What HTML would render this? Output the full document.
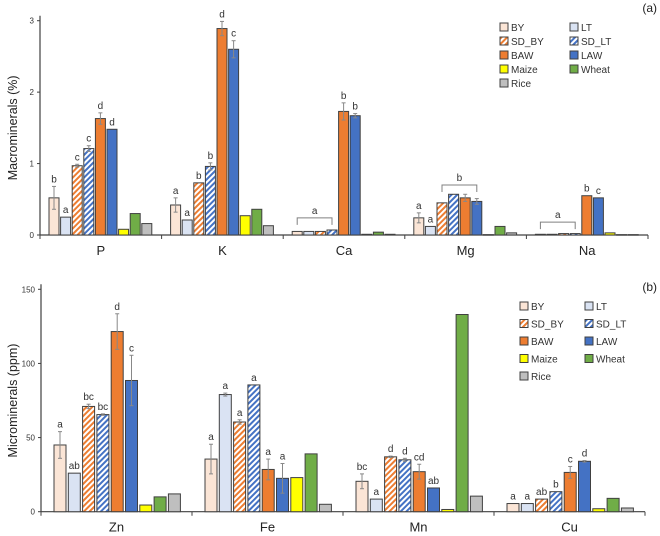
<!DOCTYPE html>
<html><head><meta charset="utf-8">
<style>
html,body{margin:0;padding:0;background:#fff;}
svg{display:block;font-family:"Liberation Sans",sans-serif;}
</style></head>
<body>
<svg id="chart" width="660" height="536" viewBox="0 0 660 536" xmlns="http://www.w3.org/2000/svg">
<defs>
<pattern id="hatchO" patternUnits="userSpaceOnUse" width="4" height="4" patternTransform="rotate(45)">
<rect width="4" height="4" fill="#fff"/><rect width="2" height="4" fill="#ed7d31"/></pattern>
<pattern id="hatchB" patternUnits="userSpaceOnUse" width="4" height="4" patternTransform="rotate(45)">
<rect width="4" height="4" fill="#fff"/><rect width="2" height="4" fill="#4472c4"/></pattern>
</defs>
<g id="top"></g>
<g id="bot"></g>
</svg>
<script>
const series = ["BY","LT","SD_BY","SD_LT","BAW","LAW","Maize","Wheat","Rice"];
const fills = ["#fbe5d6","#dae3f3","url(#hatchO)","url(#hatchB)","#ed7d31","#4472c4","#ffff00","#70ad47","#bfbfbf"];
const macroCats = ["P","K","Ca","Mg","Na"];
const macroVals = [
 [0.52,0.25,0.97,1.21,1.63,1.48,0.08,0.30,0.16],
 [0.42,0.21,0.73,0.96,2.89,2.60,0.27,0.36,0.13],
 [0.05,0.05,0.05,0.07,1.73,1.67,0.01,0.04,0.01],
 [0.24,0.12,0.45,0.57,0.52,0.47,0.005,0.12,0.03],
 [0.01,0.01,0.02,0.02,0.55,0.52,0.03,0.005,0.005]];
const macroErr = [
 [0.16,0,0.02,0.04,0.08,0,0,0,0],
 [0.10,0,0,0.05,0.10,0.12,0,0,0],
 [0,0,0,0,0.12,0.03,0,0,0],
 [0.07,0,0,0,0.05,0.04,0,0,0],
 [0,0,0,0,0,0,0,0,0]];
const macroLbl = [
 ["b","a","c","c","d","d","","",""],
 ["a","a","b","b","d","c","","",""],
 ["","","","","b","b","","",""],
 ["a","a","","","","","","",""],
 ["","","","","b","c","","",""]];
const macroTicks = [0,1,2,3];
const microCats = ["Zn","Fe","Mn","Cu"];
const microVals = [
 [45,26,71,65.5,121.5,88.5,4.5,10,12],
 [35.5,79,60.5,85.5,28.5,22.5,23,39,5],
 [20.5,8.5,37,35,27,16,1.5,133,10.5],
 [5.5,5.5,8.5,13.5,26.5,34,2,9,2.5]];
const microErr = [
 [9,0,1.5,0.5,12,17,0,0,0],
 [10,1,1.5,0,7,10,0,0,0],
 [5,0,0.5,1,5,0,0,0,0],
 [0,0,0,0,4,0.5,0,0,0]];
const microLbl = [
 ["a","ab","bc","bc","d","c","","",""],
 ["a","a","a","a","a","a","","",""],
 ["bc","a","d","d","cd","ab","","",""],
 ["a","a","ab","b","c","d","","",""]];
const microTicks = [0,50,100,150];
// brackets: [category, firstSeries, lastSeries, value, label]
const macroBrackets = [[2,0,3,0.24,"a"],[3,2,5,0.70,"b"],[4,0,3,0.18,"a"]];

const NS="http://www.w3.org/2000/svg";
function mk(parent,tag,attrs,text){const e=document.createElementNS(NS,tag);for(const k in attrs)e.setAttribute(k,attrs[k]);if(text!==undefined)e.textContent=text;parent.appendChild(e);return e;}

function drawChart(g,cfg){
 const {cats,vals,errs,lbls,ticks,x0,x1,y0,yTop,maxV,pad,bw,pitch,title,tag,brackets,legendX,legendY,legendDy,legendDx} = cfg;
 const ys=v=>y0-(v/maxV)*(y0-yTop);
 const cw=(x1-x0)/cats.length;
 const xb=(c,s)=>x0+c*cw+pad+s*pitch;
 let a=mk(g,'line',{x1:x0,y1:yTop-5,x2:x0,y2:y0,stroke:'#404040','stroke-width':1.2});
 
 a=mk(g,'line',{x1:x0,y1:y0,x2:x1,y2:y0,stroke:'#404040','stroke-width':1.2});
 
 ticks.forEach(t=>{
  mk(g,'line',{x1:x0-3,x2:x0,y1:ys(t),y2:ys(t),stroke:'#404040'});
  const tl=mk(g,'text',{x:x0-6,y:ys(t)+3,'text-anchor':'end','font-size':8,fill:'#333'},t);
  
 });
 for(let c=0;c<=cats.length;c++){mk(g,'line',{x1:x0+c*cw,x2:x0+c*cw,y1:y0,y2:y0+4,stroke:'#404040'});}
 cats.forEach((cat,c)=>{
  const t=mk(g,'text',{x:x0+c*cw+cw/2,y:y0+20,'text-anchor':'middle','font-size':13,fill:'#222'},cat);
  
  vals[c].forEach((v,s)=>{
   const x=xb(c,s),y=ys(v);
   const r=mk(g,'rect',{x:x,y:y,width:bw,height:Math.max(y0-y,0.5),fill:fills[s],stroke:'#404040','stroke-width':1});
   
   
   const e=errs[c][s];
   if(e>0){const cx=x+bw/2;
    mk(g,'line',{x1:cx,x2:cx,y1:ys(v+e),y2:ys(Math.max(v-e,0)),stroke:'#888'});
    mk(g,'line',{x1:cx-2,x2:cx+2,y1:ys(v+e),y2:ys(v+e),stroke:'#888'});
    mk(g,'line',{x1:cx-2,x2:cx+2,y1:ys(Math.max(v-e,0)),y2:ys(Math.max(v-e,0)),stroke:'#888'});}
   if(lbls[c][s]){const l=mk(g,'text',{x:x+bw/2,y:ys(v+e)-4,'text-anchor':'middle','font-size':10,fill:'#333'},lbls[c][s]);
    }
  });
 });
 (brackets||[]).forEach(b=>{
  const xa=xb(b[0],b[1])+bw/2,xe=xb(b[0],b[2])+bw/2,y=ys(b[3]);
  const p=mk(g,'path',{d:`M${xa},${y+7}V${y}H${xe}V${y+7}`,fill:'none',stroke:'#808080'});
  
  const l=mk(g,'text',{x:(xa+xe)/2,y:y-4,'text-anchor':'middle','font-size':10,fill:'#333'},b[4]);
  
 });
 const yt=mk(g,'text',{x:0,y:0,transform:`translate(17,${(y0+yTop)/2}) rotate(-90)`,'text-anchor':'middle','font-size':12.5,fill:'#222'},title);
 
 const tg=mk(g,'text',{x:657,y:cfg.tagY,'text-anchor':'end','font-size':12,fill:'#222'},tag);
 
 series.forEach((s,i)=>{
  const col=i%2,row=Math.floor(i/2);
  const lx=legendX+col*legendDx,ly=legendY+row*legendDy;
  const lg=mk(g,'g',{});
  
  mk(lg,'rect',{x:lx,y:ly-4,width:8,height:8,fill:fills[i],stroke:'#404040','stroke-width':1});
  mk(lg,'text',{x:lx+11,y:ly+4,'font-size':10,fill:'#333'},s);
 });
}
drawChart(document.getElementById('top'),{cats:macroCats,vals:macroVals,errs:macroErr,lbls:macroLbl,ticks:macroTicks,
 x0:40,x1:648,y0:235,yTop:20.7,maxV:3,pad:9,bw:10,pitch:11.6,title:"Macrominerals (%)",tag:"(a)",tagY:12,
 brackets:macroBrackets,legendX:500,legendY:27,legendDy:14,legendDx:70});
drawChart(document.getElementById('bot'),{cats:microCats,vals:microVals,errs:microErr,lbls:microLbl,ticks:microTicks,
 x0:41,x1:645,y0:511.7,yTop:289.3,maxV:150,pad:13,bw:12,pitch:14.3,title:"Microminerals (ppm)",tag:"(b)",tagY:291,
 brackets:[],legendX:520,legendY:306,legendDy:17.5,legendDx:65});
</script>
</body></html>
